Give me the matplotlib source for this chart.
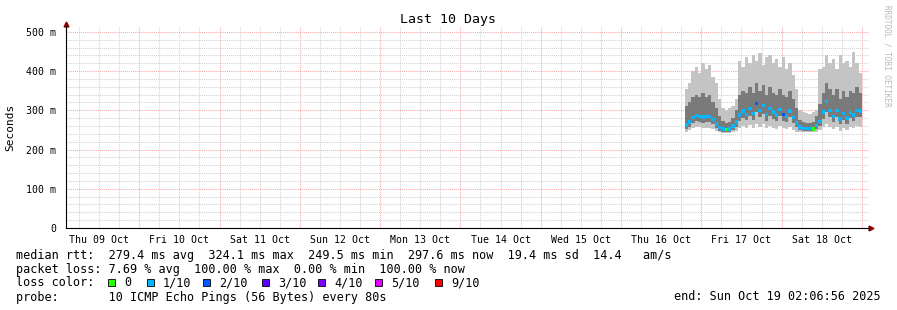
import matplotlib
matplotlib.use("Agg")
import matplotlib.pyplot as plt
import matplotlib.dates as mdates
import matplotlib.ticker as mticker
from matplotlib.patches import Rectangle
import numpy as np
import pandas as pd

# one sample per hour, first at Oct 16 19:00
first_sample = "2025-10-16 19:00"
graph_start = "2025-10-09 02:06:56"
graph_end = "2025-10-19 02:06:56"

median_ms = [263, 270, 282, 287, 285, 283, 285, 284, 276, 265,
             256, 252, 251, 252, 260, 270, 288, 298, 290, 305,
             292, 318, 300, 312, 290, 305, 296, 288, 302, 290,
             285, 298, 282, 268, 258, 254, 253, 253, 252, 262,
             272, 296, 322, 300, 285, 300, 278, 292, 280, 295,
             288, 300, 298]
loss = [1, 1, 1, 1, 1, 1, 1, 1, 1, 1,
        1, 1, 0, 1, 1, 1, 1, 1, 1, 1,
        1, 2, 1, 1, 1, 1, 1, 1, 1, 2,
        1, 1, 1, 1, 1, 1, 1, 1, 0, 1,
        1, 1, 1, 1, 1, 1, 1, 1, 1, 1,
        1, 1, 1]
smoke_max = [355, 370, 400, 410, 395, 420, 405, 415, 385, 370,
             330, 305, 300, 305, 310, 330, 425, 410, 435, 420,
             440, 425, 446, 415, 435, 440, 420, 430, 410, 435,
             405, 420, 390, 355, 300, 295, 292, 290, 295, 300,
             405, 410, 440, 420, 430, 405, 440, 420, 425, 410,
             449, 420, 395]
smoke_hi = [310, 320, 335, 340, 335, 345, 335, 340, 320, 305,
            285, 272, 268, 270, 280, 300, 340, 350, 345, 360,
            345, 370, 350, 365, 340, 360, 345, 340, 355, 340,
            335, 350, 330, 305, 275, 270, 268, 268, 270, 285,
            315, 345, 370, 355, 340, 355, 330, 350, 335, 350,
            345, 360, 345]
smoke_lo = [252, 258, 268, 272, 270, 268, 270, 270, 264, 255,
            248, 246, 246, 246, 250, 257, 272, 280, 275, 285,
            276, 296, 282, 290, 274, 285, 278, 272, 285, 274,
            270, 282, 268, 257, 250, 248, 248, 248, 247, 252,
            260, 278, 295, 282, 270, 282, 264, 276, 266, 280,
            273, 284, 282]
smoke_min = [246, 250, 256, 258, 257, 255, 256, 256, 252, 247,
             244, 243, 243, 243, 245, 248, 255, 260, 256, 262,
             256, 266, 258, 264, 254, 260, 256, 252, 260, 254,
             252, 258, 250, 246, 244, 244, 244, 244, 244, 246,
             250, 258, 264, 258, 252, 258, 248, 256, 250, 258,
             254, 260, 258]

loss_labels = ["0", "1/10", "2/10", "3/10", "4/10", "5/10", "9/10"]
loss_colors = ["#26ff00", "#00b8ff", "#0059ff", "#5e00ff", "#7e00ff", "#dd00ff", "#ff0000"]
loss_color_of = {0: "#26ff00", 1: "#00b8ff", 2: "#0059ff", 3: "#5e00ff",
                 4: "#7e00ff", 5: "#dd00ff", 9: "#ff0000"}

legend_lines = [
    "median rtt:  279.4 ms avg  324.1 ms max  249.5 ms min  297.6 ms now  19.4 ms sd  14.4   am/s",
    "packet loss: 7.69 % avg  100.00 % max  0.00 % min  100.00 % now",
    "loss color:",
    "probe:       10 ICMP Echo Pings (56 Bytes) every 80s",
]

MONO = "DejaVu Sans Mono"
W, H = 897, 310

times = pd.date_range(first_sample, periods=len(median_ms), freq="h")
tx = mdates.date2num(times.to_pydatetime())
hour = 1 / 24

fig = plt.figure(figsize=(W / 100, H / 100), dpi=100)
ax = fig.add_axes([66 / W, 1 - 228 / H, (869 - 66) / W, (228 - 26) / H])

mn = np.array(smoke_min)
mx = np.array(smoke_max)
lo = np.array(smoke_lo)
hi = np.array(smoke_hi)
ax.bar(tx, mx - mn, bottom=mn, width=hour, align="edge", color="#c4c4c4", linewidth=0, zorder=2)
ax.bar(tx, hi - lo, bottom=lo, width=hour, align="edge", color="#7a7a7a", linewidth=0, zorder=3)
ax.scatter(tx + hour / 2, median_ms, marker="s", s=6, linewidths=0,
           c=[loss_color_of[v] for v in loss], zorder=4)

ax.set_xlim(mdates.datestr2num(graph_start), mdates.datestr2num(graph_end))
ax.set_ylim(0, 515)

# grid: red at days / 100 m, grey at 6 h / 20 m
ax.xaxis.set_major_locator(mdates.DayLocator())
ax.xaxis.set_minor_locator(mdates.HourLocator(byhour=[6, 12, 18]))
ax.xaxis.set_major_formatter(mticker.NullFormatter())
ax.xaxis.set_minor_formatter(mticker.FuncFormatter(
    lambda v, p: mdates.num2date(v).strftime("%a %d %b") if mdates.num2date(v).hour == 12 else ""))
ax.yaxis.set_major_locator(mticker.MultipleLocator(100))
ax.yaxis.set_minor_locator(mticker.MultipleLocator(20))
ax.yaxis.set_major_formatter(mticker.FuncFormatter(lambda v, p: "0" if v == 0 else f"{int(v)} m"))

dot = (0, (1, 1))
ax.grid(which="major", color="#f7a8a8", linestyle=dot, linewidth=0.75)
ax.grid(which="minor", color="#d2d2d2", linestyle=dot, linewidth=0.75)
ax.set_axisbelow(True)

ax.tick_params(axis="both", which="both", length=0, labelsize=7.1)
ax.tick_params(axis="x", which="minor", pad=5)
ax.tick_params(axis="y", which="major", pad=7)
for lbl in ax.get_xticklabels(minor=True) + ax.get_yticklabels():
    lbl.set_family(MONO)

for s in ["top", "right"]:
    ax.spines[s].set_visible(False)
for s in ["left", "bottom"]:
    ax.spines[s].set_color("black")
    ax.spines[s].set_linewidth(0.8)

ax.plot([0], [1.01], marker="^", color="#8b0000", markersize=3.5, transform=ax.transAxes, clip_on=False)
ax.plot([1.003], [0], marker=">", color="#8b0000", markersize=3.5, transform=ax.transAxes, clip_on=False)

fig.text(448 / W, 1 - 19 / H, "Last 10 Days", family=MONO, fontsize=9.5, ha="center", va="center")
fig.text(10 / W, 1 - 127 / H, "Seconds", family=MONO, fontsize=8, rotation=90, ha="center", va="center")
fig.text(887 / W, 1 - 5 / H, "RRDTOOL / TOBI OETIKER", family=MONO, fontsize=5.5, color="#b8b8b8",
         rotation=-90, ha="center", va="top")

for k, line in enumerate(legend_lines):
    fig.text(16 / W, 1 - (255 + 14 * k) / H, line, family=MONO, fontsize=8.5, ha="left", va="center")

box_x = [108, 147, 203, 262, 318, 375, 435]
for bx, lab, col in zip(box_x, loss_labels, loss_colors):
    fig.patches.append(Rectangle((bx / W, 1 - 286 / H), 7 / W, 7 / H, transform=fig.transFigure,
                                 facecolor=col, edgecolor="black", linewidth=0.6))
    fig.text((bx + 16) / W, 1 - 283 / H, lab, family=MONO, fontsize=8.5, ha="left", va="center")

fig.text(881 / W, 1 - 297 / H, "end: Sun Oct 19 02:06:56 2025", family=MONO, fontsize=8.5,
         ha="right", va="center")

fig.savefig("out.png", dpi=100)
